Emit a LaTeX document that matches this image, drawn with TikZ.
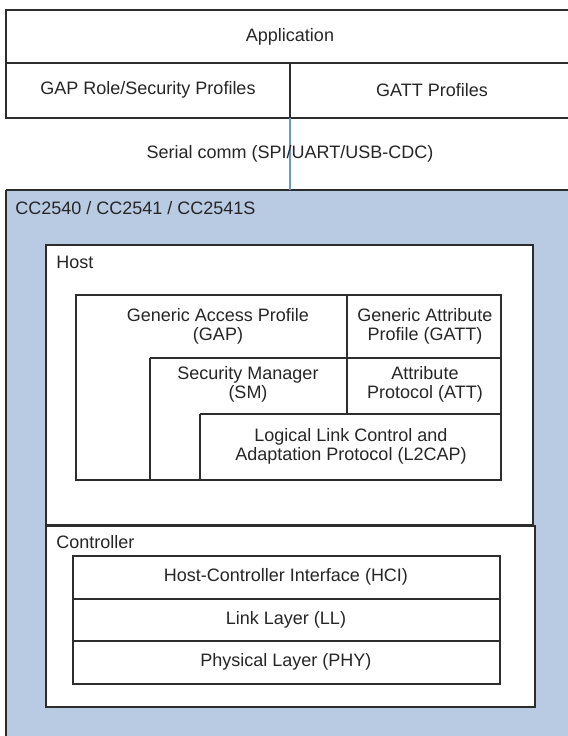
\documentclass[tikz,border=0pt]{standalone}
\usepackage{fontspec}
\setmainfont{Liberation Sans}
\definecolor{chipblue}{RGB}{185,202,227}
\definecolor{commblue}{RGB}{110,150,205}
\definecolor{edge}{RGB}{45,45,45}
\tikzset{
  lbl/.style={font=\fontsize{9}{9.5}\selectfont, text=black!85, align=center, inner sep=0pt},
  tag/.style={lbl, anchor=west},
  box/.style={draw=edge, line width=0.6pt}
}
\begin{document}
\begin{tikzpicture}[x=0.5pt,y=-0.5pt]
\useasboundingbox (0,0) rectangle (568,736);

\fill[white] (0,0) rectangle (568,736);

\draw[box] (6,10) rectangle (575,118);
\draw[box] (6,63) -- (575,63);
\draw[box] (290,63) -- (290,118);
\node[lbl] (app) at (290,37) {Application};
\node[lbl] (gaprole) at (148,90) {GAP Role/Security Profiles};
\node[lbl] (gattprof) at (432,90) {GATT Profiles};

\fill[chipblue] (6,190) rectangle (575,745);
\draw[box] (6,190) -- (575,190);
\draw[box] (6,190) -- (6,745);
\node[tag] (chip) at (15,208) {CC2540 / CC2541 / CC2541S};

\coordinate (commtop) at (290,118);
\coordinate (commbot) at (290,190);
\draw[commblue, line width=0.8pt] (commtop) -- (commbot);
\node[lbl] (serial) at (290,154) {Serial comm (SPI/UART/USB-CDC)};

\fill[white] (46,245) rectangle (533,525);
\draw[box] (46,245) rectangle (533,525);
\node[tag] (host) at (56,262) {Host};

\draw[box] (76,295) rectangle (501,480);
\draw[box] (347,295) -- (347,414);
\draw[box] (150,358) -- (501,358);
\draw[box] (150,358) -- (150,480);
\draw[box] (200,414) -- (501,414);
\draw[box] (200,414) -- (200,480);
\node[lbl] (gap) at (218,326) {Generic Access Profile\\(GAP)};
\node[lbl] (gatt) at (425,326) {Generic Attribute\\Profile (GATT)};
\node[lbl] (sm) at (248,384) {Security Manager\\(SM)};
\node[lbl] (att) at (425,384) {Attribute\\Protocol (ATT)};
\node[lbl] (l2cap) at (351,446) {Logical Link Control and\\Adaptation Protocol (L2CAP)};

\fill[white] (46,526) rectangle (535,707);
\draw[box] (46,526) rectangle (535,707);
\node[tag] (ctrl) at (56,542) {Controller};

\draw[box] (73,556) rectangle (500,684);
\draw[box] (73,599) -- (500,599);
\draw[box] (73,641) -- (500,641);
\node[lbl] (hci) at (286,577) {Host-Controller Interface (HCI)};
\node[lbl] (ll) at (286,620) {Link Layer (LL)};
\node[lbl] (phy) at (286,662) {Physical Layer (PHY)};

\end{tikzpicture}
\end{document}
